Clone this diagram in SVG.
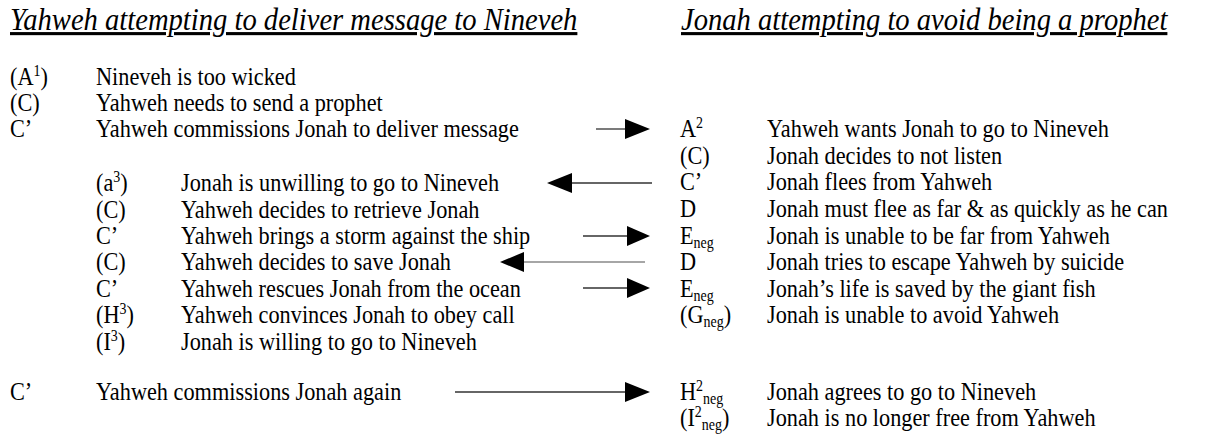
<svg xmlns="http://www.w3.org/2000/svg" width="1205" height="434" viewBox="0 0 1205 434">
<style>
text{font-family:"Liberation Serif","Times New Roman",serif;font-size:22.3px;fill:#000}
.h{font-style:italic;font-size:28.6px;text-decoration:underline}
.s{font-size:14px}
.sub{font-size:14px}
.ln{stroke:#333;stroke-width:1.3;fill:none}
.lt{stroke:#888}
.hd{fill:#000}
</style>
<rect width="1205" height="434" fill="#fff"/>
<g id="headings">
<text class="h" transform="translate(10,30) scale(1,1.08)">Yahweh attempting to deliver message to Nineveh</text>
<text class="h" transform="translate(681,30) scale(1,1.08)">Jonah attempting to avoid being a prophet</text>
</g>
<g id="left">
<g id="L1"><text transform="translate(10,85) scale(1,1.12)">(A<tspan class="s" dy="-8">1</tspan><tspan dy="8">)</tspan></text><text transform="translate(96,85) scale(1,1.12)">Nineveh is too wicked</text></g>
<g id="L2"><text transform="translate(10,111) scale(1,1.12)">(C)</text><text transform="translate(96,111) scale(1,1.12)">Yahweh needs to send a prophet</text></g>
<g id="L3"><text transform="translate(10,137) scale(1,1.12)">C’</text><text transform="translate(96,137) scale(1,1.12)">Yahweh commissions Jonah to deliver message</text></g>
<g id="L4"><text transform="translate(96,191) scale(1,1.12)">(a<tspan class="s" dy="-8">3</tspan><tspan dy="8">)</tspan></text><text transform="translate(181,191) scale(1,1.12)">Jonah is unwilling to go to Nineveh</text></g>
<g id="L5"><text transform="translate(96,217.5) scale(1,1.12)">(C)</text><text transform="translate(181,217.5) scale(1,1.12)">Yahweh decides to retrieve Jonah</text></g>
<g id="L6"><text transform="translate(96,244) scale(1,1.12)">C’</text><text transform="translate(181,244) scale(1,1.12)">Yahweh brings a storm against the ship</text></g>
<g id="L7"><text transform="translate(96,270) scale(1,1.12)">(C)</text><text transform="translate(181,270) scale(1,1.12)">Yahweh decides to save Jonah</text></g>
<g id="L8"><text transform="translate(96,296.5) scale(1,1.12)">C’</text><text transform="translate(181,296.5) scale(1,1.12)">Yahweh rescues Jonah from the ocean</text></g>
<g id="L9"><text transform="translate(96,323) scale(1,1.12)">(H<tspan class="s" dy="-8">3</tspan><tspan dy="8">)</tspan></text><text transform="translate(181,323) scale(1,1.12)">Yahweh convinces Jonah to obey call</text></g>
<g id="L10"><text transform="translate(96,349.5) scale(1,1.12)">(I<tspan class="s" dy="-8">3</tspan><tspan dy="8">)</tspan></text><text transform="translate(181,349.5) scale(1,1.12)">Jonah is willing to go to Nineveh</text></g>
<g id="L11"><text transform="translate(10,400) scale(1,1.12)">C’</text><text transform="translate(96,400) scale(1,1.12)">Yahweh commissions Jonah again</text></g>
</g>
<g id="right">
<g id="R1"><text transform="translate(680,137) scale(1,1.12)">A<tspan class="s" dy="-8">2</tspan></text><text transform="translate(767,137) scale(1,1.12)">Yahweh wants Jonah to go to Nineveh</text></g>
<g id="R2"><text transform="translate(680,163.5) scale(1,1.12)">(C)</text><text transform="translate(767,163.5) scale(1,1.12)">Jonah decides to not listen</text></g>
<g id="R3"><text transform="translate(680,190) scale(1,1.12)">C’</text><text transform="translate(767,190) scale(1,1.12)">Jonah flees from Yahweh</text></g>
<g id="R4"><text transform="translate(680,217) scale(1,1.12)">D</text><text transform="translate(767,217) scale(1,1.12)">Jonah must flee as far &amp; as quickly as he can</text></g>
<g id="R5"><text transform="translate(680,244) scale(1,1.12)">E<tspan class="sub" dy="4">neg</tspan></text><text transform="translate(767,244) scale(1,1.12)">Jonah is unable to be far from Yahweh</text></g>
<g id="R6"><text transform="translate(680,270) scale(1,1.12)">D</text><text transform="translate(767,270) scale(1,1.12)">Jonah tries to escape Yahweh by suicide</text></g>
<g id="R7"><text transform="translate(680,296.5) scale(1,1.12)">E<tspan class="sub" dy="4">neg</tspan></text><text transform="translate(767,296.5) scale(1,1.12)">Jonah’s life is saved by the giant fish</text></g>
<g id="R8"><text transform="translate(680,323) scale(1,1.12)">(G<tspan class="sub" dy="4">neg</tspan><tspan dy="-4">)</tspan></text><text transform="translate(767,323) scale(1,1.12)">Jonah is unable to avoid Yahweh</text></g>
<g id="R9"><text transform="translate(680,400) scale(1,1.12)">H<tspan class="s" dy="-8">2</tspan><tspan class="sub" dy="12">neg</tspan></text><text transform="translate(767,400) scale(1,1.12)">Jonah agrees to go to Nineveh</text></g>
<g id="R10"><text transform="translate(680,426) scale(1,1.12)">(I<tspan class="s" dy="-8">2</tspan><tspan class="sub" dy="12">neg</tspan><tspan dy="-4">)</tspan></text><text transform="translate(767,426) scale(1,1.12)">Jonah is no longer free from Yahweh</text></g>
</g>
<g id="connectors">
<line class="ln" x1="596" y1="129" x2="626" y2="129"/><polygon class="hd" points="625,119 650,129 625,139"/>
<line class="ln" x1="571" y1="183" x2="652" y2="183"/><polygon class="hd" points="572,173 547,183 572,193"/>
<line class="ln" x1="583" y1="236" x2="628" y2="236"/><polygon class="hd" points="627,226 650,236 627,246"/>
<line class="ln lt" x1="523" y1="262" x2="645" y2="262"/><polygon class="hd" points="524,252 500,262 524,272"/>
<line class="ln" x1="583" y1="288" x2="628" y2="288"/><polygon class="hd" points="627,278 650,288 627,298"/>
<line class="ln" x1="455" y1="392" x2="626" y2="392"/><polygon class="hd" points="625,382 650,392 625,402"/>
</g>
</svg>
